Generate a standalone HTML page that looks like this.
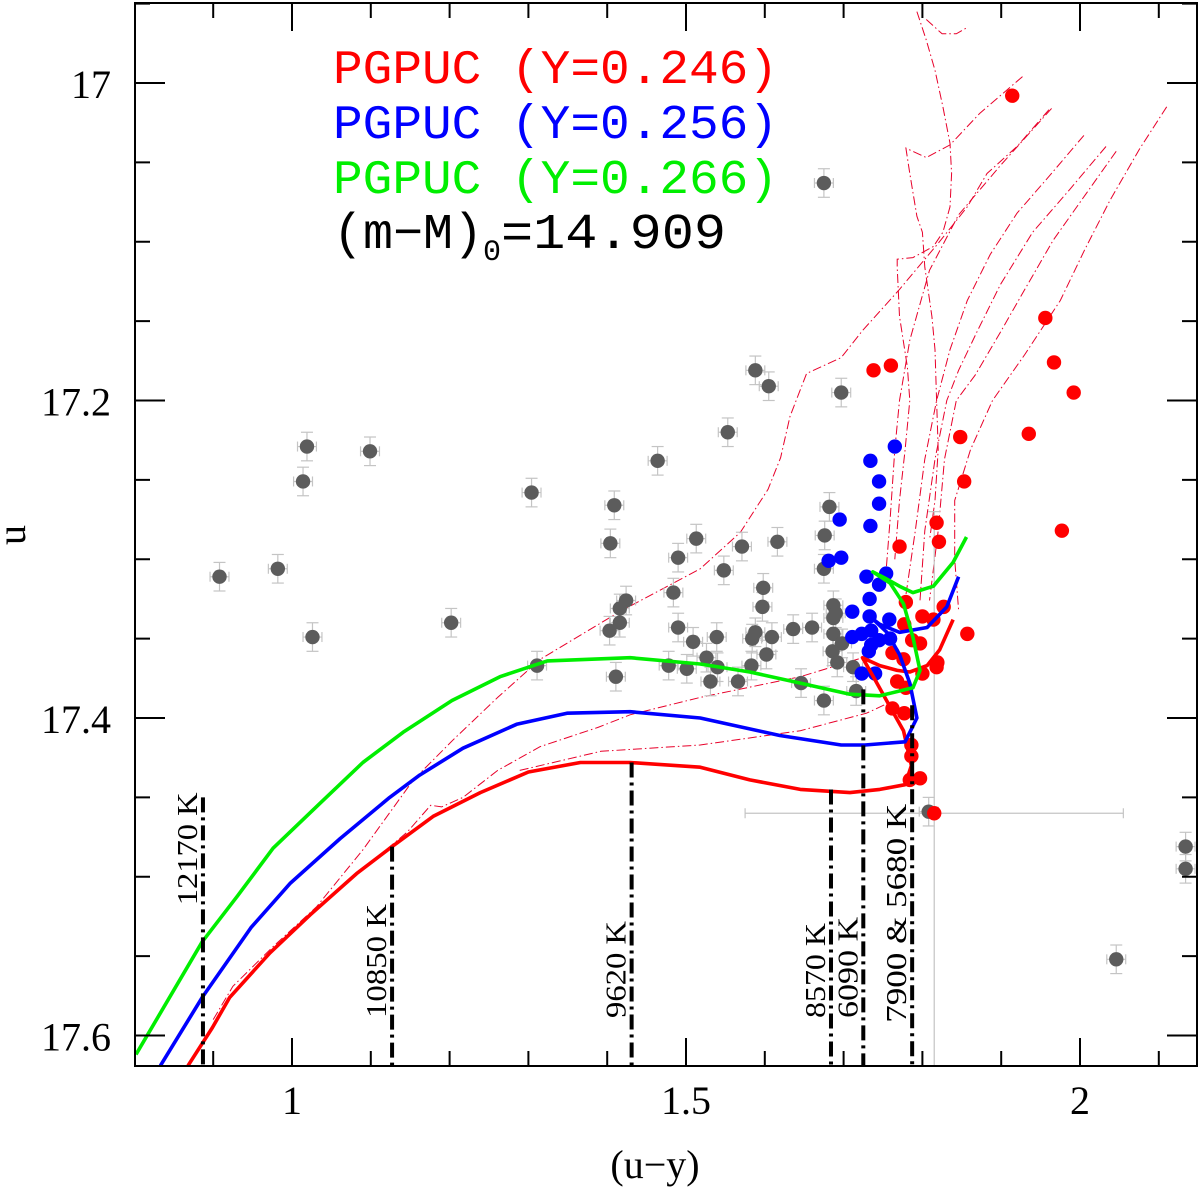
<!DOCTYPE html>
<html><head><meta charset="utf-8"><style>
html,body{margin:0;padding:0;background:#fff;}
svg{display:block;font-family:"Liberation Serif",serif;}
</style></head><body>
<svg id="chart" width="1200" height="1196" viewBox="0 0 1200 1196" xmlns="http://www.w3.org/2000/svg">
<defs><clipPath id="plotclip"><rect x="135" y="3" width="1062" height="1064"/></clipPath></defs>
<g id="thin" clip-path="url(#plotclip)"></g>
<g id="errs" clip-path="url(#plotclip)"></g>
<g id="pts" clip-path="url(#plotclip)"></g>
<g id="curves" clip-path="url(#plotclip)"></g>
<g id="markers"></g>
<g id="axes"></g>
<g font-size="48" font-family="'Liberation Mono', monospace">
<text x="333" y="83" fill="#ff0000" textLength="445" lengthAdjust="spacingAndGlyphs">PGPUC (Y=0.246)</text>
<text x="333" y="138" fill="#0000ff" textLength="445" lengthAdjust="spacingAndGlyphs">PGPUC (Y=0.256)</text>
<text x="333" y="193" fill="#00ee00" textLength="445" lengthAdjust="spacingAndGlyphs">PGPUC (Y=0.266)</text>
</g>
<text x="333" y="248" font-size="50" font-family="'Liberation Mono', monospace" fill="#000"><tspan textLength="150" lengthAdjust="spacingAndGlyphs">(m−M)</tspan><tspan font-size="30" dy="12">0</tspan><tspan dy="-12" textLength="225" lengthAdjust="spacingAndGlyphs">=14.909</tspan></text>
<text x="655" y="1178" font-size="40" text-anchor="middle">(u−y)</text>
<text x="0" y="0" font-size="40" text-anchor="middle" transform="translate(25,535) rotate(-90)">u</text>
</svg>
<script>
const grayX=[0.908,0.982,1.019,1.014,1.099,1.026,1.202,1.304,1.409,1.404,1.464,1.513,1.490,1.484,1.424,1.416,1.416,1.403,1.490,1.509,1.526,1.478,1.501,1.411,1.531,1.311,1.588,1.605,1.697,1.553,1.682,1.676,1.675,1.616,1.571,1.548,1.598,1.597,1.687,1.690,1.687,1.636,1.660,1.539,1.588,1.609,1.584,1.687,1.698,1.686,1.602,1.540,1.583,1.692,1.712,1.566,1.646,1.716,1.675,1.675,1.808,2.046,2.134,2.134];
const grayY=[17.311,17.306,17.229,17.251,17.232,17.349,17.340,17.258,17.266,17.290,17.238,17.287,17.299,17.321,17.326,17.331,17.340,17.345,17.343,17.352,17.362,17.367,17.369,17.374,17.377,17.367,17.181,17.191,17.195,17.220,17.267,17.285,17.306,17.289,17.292,17.307,17.318,17.330,17.329,17.334,17.337,17.344,17.343,17.349,17.346,17.349,17.350,17.347,17.353,17.358,17.360,17.368,17.367,17.365,17.368,17.377,17.378,17.383,17.389,17.063,17.459,17.552,17.481,17.495];
const blueX=[1.765,1.734,1.745,1.745,1.734,1.695,1.697,1.681,1.729,1.754,1.745,1.733,1.711,1.733,1.758,1.711,1.723,1.735,1.745,1.759,1.735,1.732,1.723,1.740];
const blueY=[17.229,17.238,17.251,17.265,17.279,17.275,17.299,17.301,17.311,17.309,17.316,17.325,17.333,17.336,17.338,17.349,17.347,17.345,17.351,17.350,17.354,17.358,17.372,17.372];
const redX=[1.914,1.738,1.760,1.956,1.967,1.992,1.935,1.848,1.853,1.977,1.818,1.821,1.771,1.779,1.827,1.800,1.814,1.857,1.777,1.787,1.797,1.762,1.776,1.819,1.818,1.800,1.768,1.779,1.762,1.777,1.786,1.786,1.784,1.797,1.815];
const redY=[17.008,17.181,17.178,17.148,17.176,17.195,17.221,17.223,17.251,17.282,17.277,17.289,17.292,17.327,17.330,17.336,17.338,17.347,17.341,17.351,17.353,17.359,17.363,17.365,17.368,17.372,17.377,17.381,17.394,17.397,17.417,17.424,17.439,17.438,17.460];
const bigErrX=0.24, bigErrY=0.19;
const grayErrX=0.012, grayErrY=0.009;

const zRedX=[0.868,0.899,0.921,0.972,1.023,1.082,1.127,1.179,1.239,1.300,1.366,1.429,1.518,1.581,1.645,1.708,1.746,1.778,1.786,1.776,1.759,1.740,1.724,1.746,1.768,1.784,1.806,1.822,1.839];
const zRedY=[17.619,17.595,17.576,17.548,17.524,17.498,17.481,17.462,17.447,17.434,17.428,17.428,17.431,17.439,17.445,17.447,17.445,17.442,17.430,17.408,17.393,17.376,17.362,17.367,17.370,17.371,17.367,17.357,17.338];
const zBlueX=[0.833,0.886,0.948,0.998,1.061,1.124,1.162,1.217,1.285,1.349,1.429,1.518,1.619,1.697,1.727,1.778,1.793,1.784,1.771,1.755,1.738,1.746,1.771,1.806,1.831,1.846];
const zBlueY=[17.619,17.576,17.532,17.504,17.476,17.450,17.436,17.419,17.404,17.397,17.396,17.400,17.411,17.417,17.417,17.415,17.400,17.378,17.360,17.346,17.338,17.341,17.346,17.343,17.330,17.311];
const zGreenX=[0.802,0.886,0.931,0.976,1.035,1.090,1.141,1.203,1.264,1.324,1.429,1.518,1.581,1.645,1.708,1.746,1.788,1.797,1.788,1.776,1.759,1.737,1.753,1.771,1.788,1.814,1.839,1.856];
const zGreenY=[17.612,17.541,17.512,17.482,17.454,17.428,17.409,17.389,17.374,17.364,17.362,17.366,17.371,17.378,17.385,17.386,17.381,17.370,17.349,17.328,17.315,17.308,17.312,17.317,17.321,17.317,17.302,17.286];

const tdX=[0.900,0.925,0.976,1.031,1.090,1.154,1.204,1.261,1.315,1.416,1.518,1.569,1.604,1.620,1.632,1.653,1.697,1.724,1.771,1.820,1.857,1.882,1.920,1.962];
const tdY=[17.590,17.569,17.544,17.519,17.483,17.439,17.414,17.387,17.363,17.333,17.306,17.283,17.256,17.236,17.210,17.183,17.173,17.156,17.130,17.101,17.078,17.057,17.040,17.016];
const t2X=[1.088,1.146,1.176,1.190,1.217,1.261,1.315,1.388,1.429,1.518,1.645,1.724];
const t2Y=[17.496,17.472,17.455,17.456,17.450,17.433,17.418,17.406,17.398,17.387,17.374,17.362];
const t3X=[1.289,1.392,1.518,1.645,1.729,1.755];
const t3Y=[17.433,17.421,17.417,17.408,17.397,17.391];
const taX=[1.927,1.873,1.835,1.805,1.779,1.784,1.793,1.800,1.803,1.812,1.816,1.818,1.820,1.816,1.809];
const taY=[16.996,17.019,17.039,17.047,17.041,17.057,17.084,17.094,17.116,17.147,17.168,17.200,17.231,17.263,17.288];
const tbX=[1.793,1.805,1.816,1.826,1.835,1.837,1.835,1.826,1.814,1.788,1.768,1.768,1.771,1.781,1.784,1.778,1.771,1.765];
const tbY=[16.955,16.973,16.992,17.015,17.038,17.057,17.078,17.094,17.103,17.110,17.111,17.116,17.147,17.179,17.200,17.231,17.263,17.300];
const arcX=[1.805,1.825,1.843,1.857];
const arcY=[16.960,16.969,16.969,16.965];
const p1X=[1.964,1.899,1.846,1.809,1.784,1.771,1.765,1.759,1.753];
const p1Y=[17.016,17.052,17.083,17.118,17.162,17.200,17.231,17.275,17.313];
const p2X=[2.005,1.962,1.920,1.886,1.857,1.835,1.818,1.803,1.791,1.778];
const p2Y=[17.033,17.058,17.082,17.108,17.137,17.168,17.200,17.237,17.282,17.326];
const p3X=[2.033,1.987,1.940,1.899,1.869,1.846,1.831,1.816,1.803,1.797];
const p3Y=[17.040,17.067,17.094,17.127,17.157,17.181,17.200,17.237,17.282,17.326];
const p4X=[2.046,2.006,1.966,1.930,1.899,1.867,1.843,1.828,1.820,1.809];
const p4Y=[17.043,17.071,17.099,17.130,17.157,17.184,17.200,17.237,17.282,17.326];
const p5X=[2.110,2.075,2.038,2.006,1.975,1.930,1.889,1.861,1.841,1.841,1.846];
const p5Y=[17.015,17.042,17.074,17.105,17.137,17.171,17.200,17.231,17.263,17.300,17.332];

const markerX=[0.887,1.127,1.431,1.684,1.725,1.787];
const markerTop=[17.450,17.481,17.428,17.445,17.382,17.392];
const markerLabels=["12170 K","10850 K","9620 K","8570 K","6090 K","7900 & 5680 K"];
const markerLabelBottom=[17.518,17.589,17.589,17.589,17.589,17.592];
const markerLabelLen=[113,114,97,95,101,219];

const xMajor=[1,1.5,2];
const xMajorLabels=["1","1.5","2"];
const xMinor=[0.9,1.1,1.2,1.3,1.4,1.6,1.7,1.8,1.9,2.1];
const yMajor=[17,17.2,17.4,17.6];
const yMajorLabels=["17","17.2","17.4","17.6"];
const yMinor=[16.95,17.05,17.1,17.15,17.25,17.3,17.35,17.45,17.5,17.55];

const L=135,R=1197,T=3,B=1066;
function X(v){return 292+(v-1)*788;}
function Y(v){return 83+(v-17)*1587.5;}
const NS="http://www.w3.org/2000/svg";
function mk(tag,attrs,parent){const e=document.createElementNS(NS,tag);for(const k in attrs)e.setAttribute(k,attrs[k]);parent.appendChild(e);return e;}
function pathD(xs,ys){return xs.map((x,i)=>(i?"L":"M")+X(x).toFixed(1)+","+Y(ys[i]).toFixed(1)).join(" ");}

const gThin=document.getElementById('thin');
const thinSets=[[tdX,tdY],[t2X,t2Y],[t3X,t3Y],[taX,taY],[tbX,tbY],[arcX,arcY],[p1X,p1Y],[p2X,p2Y],[p3X,p3Y],[p4X,p4Y],[p5X,p5Y]];
thinSets.forEach((s,i)=>{
  const p=mk('path',{d:pathD(s[0],s[1]),fill:'none',stroke:'#e8002a','stroke-width':'1','stroke-dasharray':'9,3,1.5,3'},gThin);
  
  
});

const gErr=document.getElementById('errs');
function errbar(cx,cy,ex,ey,name){
  const g=mk('g',{stroke:'#c4c4c4','stroke-width':'1.2',fill:'none'},gErr);
  
  
  const x0=X(cx-ex),x1=X(cx+ex),y0=Y(cy-ey),y1=Y(cy+ey),px=X(cx),py=Y(cy);
  mk('line',{x1:x0,y1:py,x2:x1,y2:py},g);
  mk('line',{x1:px,y1:y0,x2:px,y2:y1},g);
  mk('line',{x1:px-6,y1:y0,x2:px+6,y2:y0},g);
  mk('line',{x1:px-6,y1:y1,x2:px+6,y2:y1},g);
  mk('line',{x1:x0,y1:py-5,x2:x0,y2:py+5},g);
  mk('line',{x1:x1,y1:py-5,x2:x1,y2:py+5},g);
}
grayX.forEach((x,i)=>errbar(x,grayY[i],grayErrX,grayErrY,'gray-error-bar'));
errbar(redX[redX.length-1],redY[redY.length-1],bigErrX,bigErrY,'large-error-bar');

const gPts=document.getElementById('pts');
grayX.forEach((x,i)=>{
  const c=mk('circle',{cx:X(x),cy:Y(grayY[i]),r:7.2,fill:'#5c5c5c'},gPts);
  
  
});
blueX.forEach((x,i)=>{
  const c=mk('circle',{cx:X(x),cy:Y(blueY[i]),r:7.2,fill:'#0000ff'},gPts);
  
  
});
redX.forEach((x,i)=>{
  const c=mk('circle',{cx:X(x),cy:Y(redY[i]),r:7.2,fill:'#ff0000'},gPts);
  
  
});

const gCur=document.getElementById('curves');
[[zRedX,zRedY,'#ff0000','zahb-y0246'],[zBlueX,zBlueY,'#0000ff','zahb-y0256'],[zGreenX,zGreenY,'#00ee00','zahb-y0266']].forEach(s=>{
  const p=mk('path',{d:pathD(s[0],s[1]),fill:'none',stroke:s[2],'stroke-width':'3.6','stroke-linejoin':'round'},gCur);
  
  
});

const gM=document.getElementById('markers');
markerX.forEach((x,i)=>{
  const l=mk('line',{x1:X(x),y1:Y(markerTop[i]),x2:X(x),y2:B,stroke:'#000','stroke-width':'4','stroke-dasharray':'15,5,3,5'},gM);
  
  
  const bx=X(x)-6, by=Y(markerLabelBottom[i]);
  const t=mk('text',{x:0,y:0,'font-size':'28',textLength:markerLabelLen[i],lengthAdjust:'spacingAndGlyphs',transform:'translate('+bx.toFixed(1)+','+by.toFixed(1)+') rotate(-90)'},gM);
  t.textContent=markerLabels[i];
  
  
});

const gA=document.getElementById('axes');
const fr=mk('rect',{x:L,y:T,width:R-L,height:B-T,fill:'none',stroke:'#000','stroke-width':'2'},gA);


xMajor.forEach((v,i)=>{
  mk('line',{x1:X(v),y1:B,x2:X(v),y2:B-28,stroke:'#000','stroke-width':'2'},gA);
  mk('line',{x1:X(v),y1:T,x2:X(v),y2:T+28,stroke:'#000','stroke-width':'2'},gA);
  const t=mk('text',{x:X(v),y:1114,'font-size':'40','text-anchor':'middle'},gA);
  t.textContent=xMajorLabels[i];
  
  
});
xMinor.forEach(v=>{
  mk('line',{x1:X(v),y1:B,x2:X(v),y2:B-15,stroke:'#000','stroke-width':'2'},gA);
  mk('line',{x1:X(v),y1:T,x2:X(v),y2:T+15,stroke:'#000','stroke-width':'2'},gA);
});
yMajor.forEach((v,i)=>{
  mk('line',{x1:L,y1:Y(v),x2:L+30,y2:Y(v),stroke:'#000','stroke-width':'2'},gA);
  mk('line',{x1:R,y1:Y(v),x2:R-30,y2:Y(v),stroke:'#000','stroke-width':'2'},gA);
  const t=mk('text',{x:111,y:Y(v)+15,'font-size':'40','text-anchor':'end'},gA);
  t.textContent=yMajorLabels[i];
  
  
});
yMinor.forEach(v=>{
  mk('line',{x1:L,y1:Y(v),x2:L+15,y2:Y(v),stroke:'#000','stroke-width':'2'},gA);
  mk('line',{x1:R,y1:Y(v),x2:R-15,y2:Y(v),stroke:'#000','stroke-width':'2'},gA);
});
</script>
</body></html>
